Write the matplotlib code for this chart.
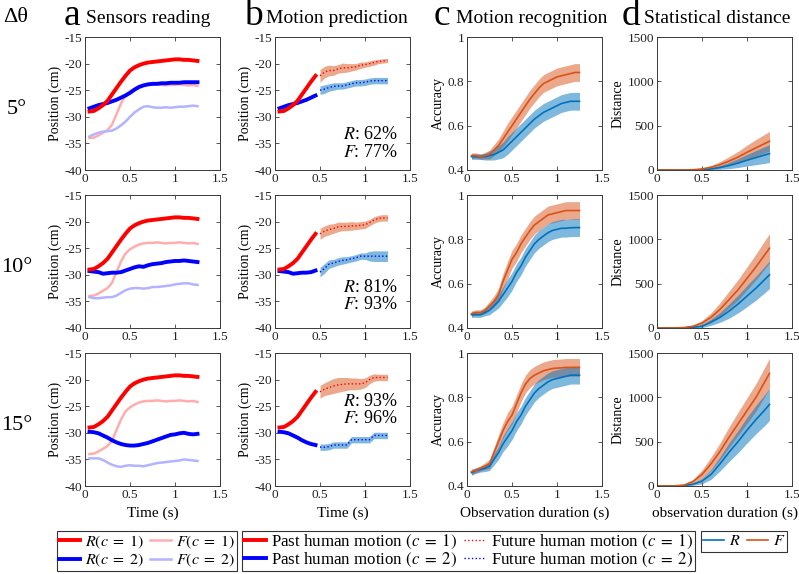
import numpy as np
import matplotlib
matplotlib.use("Agg")
import matplotlib.pyplot as plt
from matplotlib.lines import Line2D

plt.rcParams['font.family'] = ['Liberation Serif', 'DejaVu Serif']
plt.rcParams['mathtext.fontset'] = 'stix'
plt.rcParams['axes.unicode_minus'] = False

# ---------------- data ----------------
t_a = [0.05, 0.1, 0.15, 0.2, 0.25, 0.3, 0.35, 0.4, 0.45, 0.5, 0.55, 0.6, 0.65,
       0.7, 0.75, 0.8, 0.85, 0.9, 0.95, 1.0, 1.05, 1.1, 1.15, 1.2, 1.25]

# sensors reading, c=1 (same in every row)
R1 = [-29.0, -28.9, -28.4, -27.8, -27.0, -25.8, -24.6, -23.4, -22.3, -21.3, -20.7, -20.3, -20.0,
      -19.8, -19.7, -19.6, -19.5, -19.4, -19.3, -19.2, -19.2, -19.3, -19.3, -19.4, -19.5]
F1 = [-34.0, -33.9, -33.5, -33.0, -32.5, -31.5, -29.5, -27.5, -26.0, -25.2, -24.7, -24.3, -24.1,
      -24.0, -24.0, -23.9, -24.0, -24.1, -24.0, -24.0, -23.9, -24.0, -24.1, -24.0, -24.2]
# c=2 per row (5, 10, 15 deg)
R2 = [
    [-28.4, -28.1, -27.8, -27.6, -27.4, -27.1, -26.8, -26.4, -26.0, -25.5, -24.9, -24.4, -24.1,
     -23.9, -23.8, -23.8, -23.7, -23.7, -23.6, -23.6, -23.6, -23.5, -23.5, -23.5, -23.5],
    [-29.3, -29.4, -29.5, -29.8, -29.7, -29.6, -29.6, -29.5, -29.2, -28.9, -28.6, -28.4, -28.5,
     -28.2, -28.0, -27.9, -27.8, -27.6, -27.5, -27.4, -27.4, -27.3, -27.4, -27.5, -27.6],
    [-29.8, -29.9, -30.1, -30.5, -30.9, -31.4, -31.8, -32.1, -32.3, -32.4, -32.4, -32.3, -32.1,
     -31.9, -31.6, -31.3, -31.0, -30.7, -30.4, -30.3, -30.1, -30.0, -30.2, -30.3, -30.2],
]
F2 = [
    [-33.7, -33.3, -33.0, -32.8, -32.7, -32.6, -32.2, -31.6, -30.9, -30.0, -29.2, -28.6, -28.1,
     -28.0, -28.2, -28.3, -28.3, -28.2, -28.3, -28.2, -28.1, -28.1, -28.0, -27.9, -28.0],
    [-34.2, -34.4, -34.4, -34.3, -34.2, -34.2, -33.9, -33.4, -32.9, -32.6, -32.5, -32.5, -32.6,
     -32.5, -32.3, -32.3, -32.2, -32.1, -32.0, -31.8, -31.7, -31.6, -31.6, -31.8, -31.9],
    [-34.8, -34.8, -34.8, -35.1, -35.6, -36.0, -36.3, -36.4, -36.2, -36.1, -36.2, -36.2, -36.3,
     -36.1, -35.9, -35.7, -35.6, -35.5, -35.4, -35.3, -35.2, -35.0, -35.1, -35.2, -35.3],
]

# motion prediction (future part)
t_f = [0.5, 0.55, 0.6, 0.65, 0.7, 0.75, 0.8, 0.85, 0.9, 0.95, 1.0, 1.05, 1.1, 1.15, 1.2, 1.25]
fut1 = [
    [-22.3, -21.6, -21.3, -21.3, -21.0, -20.8, -20.8, -20.7, -20.6, -20.3, -20.2, -20.0, -19.8, -19.6, -19.5, -19.4],
    [-22.3, -21.8, -21.5, -21.3, -21.0, -20.9, -20.9, -20.8, -20.8, -20.7, -20.6, -20.2, -19.7, -19.4, -19.3, -19.3],
    [-22.3, -21.8, -21.5, -21.2, -21.0, -20.9, -20.8, -20.8, -20.8, -20.8, -20.6, -20.0, -19.6, -19.6, -19.6, -19.6],
]
fut1_hw = [
    [1.2, 1.1, 1.0, 0.9, 0.8, 0.9, 0.8, 0.7, 0.6, 0.6, 0.5, 0.5, 0.5, 0.4, 0.4, 0.4],
    [1.0, 1.0, 1.0, 0.9, 0.9, 0.8, 0.8, 0.8, 0.7, 0.7, 0.7, 0.6, 0.6, 0.6, 0.6, 0.6],
    [1.2, 1.2, 1.3, 1.4, 1.4, 1.3, 1.2, 1.1, 1.1, 1.0, 0.9, 0.8, 0.7, 0.6, 0.6, 0.6],
]
fut2 = [
    [-25.0, -24.8, -24.5, -24.3, -24.2, -24.2, -24.0, -23.8, -23.6, -23.6, -23.5, -23.3, -23.2, -23.2, -23.2, -23.2],
    [-29.5, -28.8, -28.0, -27.8, -27.5, -27.3, -27.2, -27.0, -26.8, -26.5, -26.5, -26.5, -26.5, -26.5, -26.5, -26.5],
    [-32.7, -32.7, -32.6, -32.3, -32.3, -32.3, -32.3, -31.3, -31.3, -31.3, -31.3, -31.3, -30.5, -30.5, -30.5, -30.5],
]
fut2_hw = [
    [0.8, 0.8, 0.7, 0.7, 0.6, 0.6, 0.6, 0.6, 0.6, 0.6, 0.6, 0.6, 0.6, 0.6, 0.6, 0.6],
    [0.9, 0.9, 0.8, 0.7, 0.7, 0.7, 0.6, 0.6, 0.6, 0.6, 0.6, 0.9, 1.0, 1.0, 1.0, 1.0],
    [0.6, 0.6, 0.6, 0.6, 0.6, 0.6, 0.6, 0.6, 0.6, 0.6, 0.6, 0.6, 0.6, 0.6, 0.6, 0.6],
]
scores = ["$R$: 62%\n$F$: 77%", "$R$: 81%\n$F$: 93%", "$R$: 93%\n$F$: 96%"]
score_y = [-35.0, -34.0, -25.7]

# motion recognition accuracy
t_c = t_a
accR = [
    [0.46, 0.46, 0.46, 0.46, 0.465, 0.47, 0.48, 0.49, 0.51, 0.53, 0.55, 0.57, 0.59,
     0.61, 0.63, 0.645, 0.66, 0.67, 0.68, 0.69, 0.70, 0.705, 0.71, 0.71, 0.71],
    [0.46, 0.46, 0.46, 0.47, 0.48, 0.50, 0.52, 0.55, 0.58, 0.61, 0.65, 0.68, 0.72,
     0.75, 0.78, 0.80, 0.815, 0.83, 0.84, 0.845, 0.85, 0.85, 0.852, 0.853, 0.853],
    [0.46, 0.47, 0.475, 0.48, 0.49, 0.52, 0.55, 0.59, 0.62, 0.65, 0.69, 0.72, 0.76,
     0.79, 0.82, 0.84, 0.855, 0.87, 0.88, 0.885, 0.89, 0.895, 0.9, 0.9, 0.9],
]
accF = [
    [0.465, 0.465, 0.46, 0.465, 0.47, 0.49, 0.51, 0.54, 0.57, 0.60, 0.63, 0.66, 0.69,
     0.72, 0.745, 0.77, 0.79, 0.80, 0.81, 0.82, 0.825, 0.83, 0.835, 0.84, 0.84],
    [0.465, 0.47, 0.47, 0.48, 0.50, 0.52, 0.55, 0.61, 0.66, 0.71, 0.74, 0.78, 0.81,
     0.84, 0.865, 0.88, 0.895, 0.91, 0.915, 0.92, 0.925, 0.93, 0.93, 0.93, 0.93],
    [0.465, 0.47, 0.48, 0.49, 0.50, 0.55, 0.60, 0.65, 0.69, 0.72, 0.77, 0.82, 0.86,
     0.885, 0.90, 0.91, 0.92, 0.925, 0.93, 0.932, 0.933, 0.935, 0.935, 0.935, 0.935],
]
accR_hw = [0.012, 0.012, 0.012, 0.015, 0.02, 0.025, 0.03, 0.035, 0.04, 0.04, 0.04, 0.04, 0.04,
           0.04, 0.04, 0.04, 0.04, 0.04, 0.04, 0.04, 0.04, 0.04, 0.04, 0.04, 0.04]
accF_hw = [0.012, 0.012, 0.012, 0.015, 0.02, 0.025, 0.03, 0.035, 0.04, 0.04, 0.04, 0.04, 0.04,
           0.04, 0.04, 0.04, 0.04, 0.04, 0.04, 0.04, 0.04, 0.04, 0.04, 0.04, 0.04]

# statistical distance
t_d = [0.0, 0.1, 0.2, 0.3, 0.4, 0.5, 0.6, 0.7, 0.8, 0.9, 1.0, 1.1, 1.2, 1.25]
distR = [
    [0, 0, 0, 0, 0, 3, 12, 28, 50, 78, 110, 140, 170, 185],
    [0, 0, 0, 2, 8, 20, 65, 120, 190, 270, 360, 450, 550, 600],
    [0, 0, 0, 5, 20, 55, 130, 250, 380, 500, 630, 750, 860, 920],
]
distF = [
    [0, 0, 0, 0, 3, 12, 30, 60, 100, 145, 200, 250, 300, 325],
    [0, 0, 0, 5, 20, 55, 120, 210, 320, 430, 560, 690, 830, 900],
    [0, 0, 2, 10, 50, 130, 250, 390, 550, 700, 850, 1000, 1180, 1270],
]
distR_hw = [
    [0, 0, 0, 0, 0, 3, 10, 20, 35, 50, 65, 80, 95, 100],
    [0, 0, 0, 2, 6, 15, 35, 55, 80, 100, 120, 135, 150, 155],
    [0, 0, 0, 4, 12, 30, 55, 80, 105, 125, 145, 160, 175, 180],
]
distF_hw = [
    [0, 0, 0, 0, 3, 10, 20, 35, 50, 65, 80, 95, 105, 110],
    [0, 0, 0, 4, 12, 30, 50, 75, 95, 115, 130, 145, 160, 165],
    [0, 0, 2, 8, 25, 50, 75, 95, 115, 130, 145, 155, 165, 170],
]

row_labels = ["5°", "10°", "15°"]
col_letters = ["a", "b", "c", "d"]
col_titles = ["Sensors reading", "Motion prediction", "Motion recognition", "Statistical distance"]

# ---------------- style ----------------
RED = (1, 0, 0)
BLUE = (0, 0, 1)
PINK = (1, 0.68, 0.68)
LBLUE = (0.70, 0.70, 1)
MBLUE = (0, 0.447, 0.741)
MORANGE = (0.85, 0.325, 0.098)
FRAME = '#3a3a3a'

W, H = 799, 574
fig = plt.figure(figsize=(W / 100, H / 100), dpi=100)


def pos(l, t, w, h):
    return [l / W, 1 - (t + h) / H, w / W, h / H]


lefts = [85, 275, 467, 657]
tops = [37, 195, 353]
AW, AH = 135, 133
TICK_FS = 9.5
LAB_FS = 10


def style(ax, ylim, yticks, ylabs):
    ax.set_xlim(0, 1.5)
    ax.set_ylim(*ylim)
    ax.set_xticks([0, 0.5, 1, 1.5])
    ax.set_xticklabels(["0", "0.5", "1", "1.5"])
    ax.set_yticks(yticks)
    ax.set_yticklabels(ylabs)
    ax.tick_params(direction='in', top=True, right=True, length=3, width=0.6,
                   labelsize=TICK_FS, colors=FRAME, labelcolor='#222222', pad=2)
    for s in ax.spines.values():
        s.set_color(FRAME)
        s.set_linewidth(0.7)


pos_ticks = [-40, -35, -30, -25, -20, -15]
pos_labs = [str(v) for v in pos_ticks]

t_a = np.array(t_a)
past = t_a <= 0.47

for r in range(3):
    top = tops[r]
    # a: sensors reading
    ax = fig.add_axes(pos(lefts[0], top, AW, AH))
    ax.plot(t_a, F1, color=PINK, lw=1.8)
    ax.plot(t_a, F2[r], color=LBLUE, lw=1.8)
    ax.plot(t_a, R2[r], color=BLUE, lw=2.8)
    ax.plot(t_a, R1, color=RED, lw=2.8)
    style(ax, (-40, -15), pos_ticks, pos_labs)
    ax.set_ylabel("Position (cm)", fontsize=LAB_FS, labelpad=2)
    if r == 2:
        ax.set_xlabel("Time (s)", fontsize=LAB_FS + 1, labelpad=4)

    # b: motion prediction
    ax = fig.add_axes(pos(lefts[1], top, AW, AH))
    f1 = np.array(fut1[r]); h1 = np.array(fut1_hw[r])
    f2 = np.array(fut2[r]); h2 = np.array(fut2_hw[r])
    ax.fill_between(t_f, f1 - h1, f1 + h1, color=MORANGE, alpha=0.5, lw=0)
    ax.fill_between(t_f, f2 - h2, f2 + h2, color=MBLUE, alpha=0.5, lw=0)
    ax.plot(t_f, f1, color=RED, lw=1.0, ls=':')
    ax.plot(t_f, f2, color=BLUE, lw=1.0, ls=':')
    ax.plot(t_a[past], np.array(R2[r])[past], color=BLUE, lw=2.8)
    ax.plot(t_a[past], np.array(R1)[past], color=RED, lw=2.8)
    ax.text(1.37, score_y[r], scores[r], ha='right', va='center', fontsize=13,
            linespacing=1.05)
    style(ax, (-40, -15), pos_ticks, pos_labs)
    ax.set_ylabel("Position (cm)", fontsize=LAB_FS, labelpad=2)
    if r == 2:
        ax.set_xlabel("Time (s)", fontsize=LAB_FS + 1, labelpad=4)

    # c: motion recognition
    ax = fig.add_axes(pos(lefts[2], top, AW, AH))
    aR = np.array(accR[r]); aF = np.array(accF[r])
    hR = np.array(accR_hw); hF = np.array(accF_hw)
    ax.fill_between(t_c, aF - hF, aF + hF, color=MORANGE, alpha=0.5, lw=0)
    ax.fill_between(t_c, aR - hR, aR + hR, color=MBLUE, alpha=0.5, lw=0)
    ax.plot(t_c, aR, color=MBLUE, lw=1.2)
    ax.plot(t_c, aF, color=MORANGE, lw=1.2)
    style(ax, (0.4, 1.0), [0.4, 0.6, 0.8, 1.0], ["0.4", "0.6", "0.8", "1"])
    ax.set_ylabel("Accuracy", fontsize=LAB_FS, labelpad=2)
    if r == 2:
        ax.set_xlabel("Observation duration (s)", fontsize=LAB_FS + 1, labelpad=4)

    # d: statistical distance
    ax = fig.add_axes(pos(lefts[3], top, AW, AH))
    dR = np.array(distR[r]); dF = np.array(distF[r])
    hR = np.array(distR_hw[r]); hF = np.array(distF_hw[r])
    ax.fill_between(t_d, dF - hF, dF + hF, color=MORANGE, alpha=0.5, lw=0)
    ax.fill_between(t_d, dR - hR, dR + hR, color=MBLUE, alpha=0.5, lw=0)
    ax.plot(t_d, dR, color=MBLUE, lw=1.2)
    ax.plot(t_d, dF, color=MORANGE, lw=1.2)
    style(ax, (0, 1500), [0, 500, 1000, 1500], ["0", "500", "1000", "1500"])
    ax.set_ylabel("Distance", fontsize=LAB_FS, labelpad=2)
    if r == 2:
        ax.set_xlabel("observation duration (s)", fontsize=LAB_FS + 1, labelpad=4)

    fig.text(17 / W, 1 - (top + 73) / H, row_labels[r], fontsize=16,
             ha='center', va='center')

# headers
fig.text(16 / W, 1 - 17 / H, "Δθ", fontsize=16, ha='center', va='center')
letter_x = [64, 244, 434, 622]
for i in range(4):
    fig.text(letter_x[i] / W, 1 - 25 / H, col_letters[i], fontsize=27,
             ha='left', va='baseline')
    fig.text((letter_x[i] + 22) / W, 1 - 23 / H, col_titles[i], fontsize=14,
             ha='left', va='baseline')

# legends
leg_kw = dict(loc='upper left', frameon=True, fancybox=False, edgecolor='black',
              fontsize=11.5, handlelength=1.3, handletextpad=0.3, columnspacing=0.4,
              borderpad=0.15, labelspacing=0.05, borderaxespad=0)

h1 = [Line2D([], [], color=RED, lw=2.8), Line2D([], [], color=BLUE, lw=2.8),
      Line2D([], [], color=PINK, lw=1.8), Line2D([], [], color=LBLUE, lw=1.8)]
l1 = [r"$R(c\;=\;1)$", r"$R(c\;=\;2)$", r"$F(c\;=\;1)$", r"$F(c\;=\;2)$"]
lg = fig.legend(h1, l1, ncol=2, bbox_to_anchor=(57 / W, 1 - 531 / H), **leg_kw)
lg.get_frame().set_linewidth(0.8)

h2 = [Line2D([], [], color=RED, lw=2.8), Line2D([], [], color=BLUE, lw=2.8),
      Line2D([], [], color=RED, lw=1.0, ls=':'), Line2D([], [], color=BLUE, lw=1.0, ls=':')]
l2 = [r"Past human motion $(c\;=\;1)$", r"Past human motion $(c\;=\;2)$",
      r"Future human motion $(c\;=\;1)$", r"Future human motion $(c\;=\;2)$"]
leg2_kw = dict(leg_kw, fontsize=12.2, labelspacing=0.0, borderpad=0.1)
lg = fig.legend(h2, l2, ncol=2, bbox_to_anchor=(242 / W, 1 - 531 / H), **leg2_kw)
lg.get_frame().set_linewidth(0.8)

h3 = [Line2D([], [], color=MBLUE, lw=1.2), Line2D([], [], color=MORANGE, lw=1.2)]
lg = fig.legend(h3, ["$R$", "$F$"], ncol=2, bbox_to_anchor=(701 / W, 1 - 531 / H), **leg_kw)
lg.get_frame().set_linewidth(0.8)

fig.savefig("out.png", dpi=100)
